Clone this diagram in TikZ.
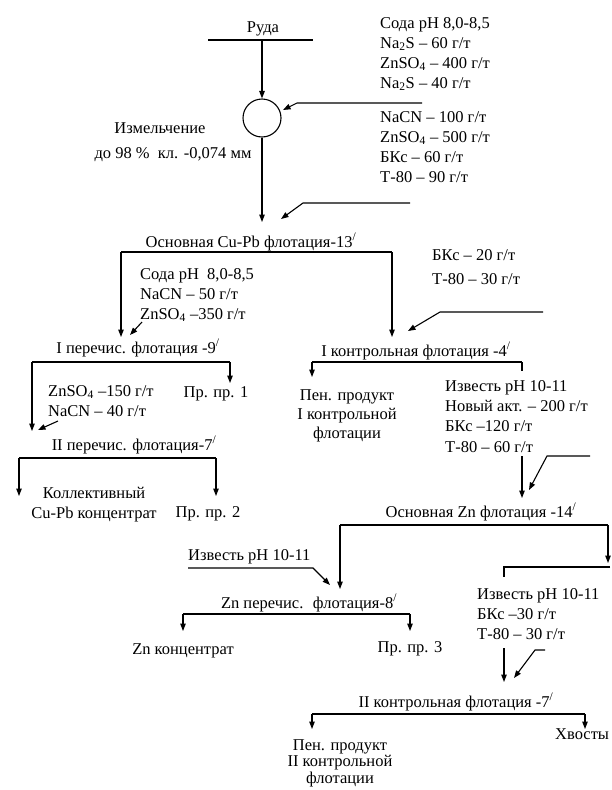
\documentclass[tikz,border=0pt]{standalone}
\usepackage{fontspec}
\setmainfont{Liberation Serif}
\usetikzlibrary{arrows.meta}
\newcommand\dfont{\fontsize{16.5}{20}\selectfont}
\newcommand\mn{\textsuperscript{/}}
\tikzset{
  txt/.style={inner sep=0pt, font=\dfont, anchor=base},
  blk/.style={inner sep=0pt, font=\dfont, align=left, anchor=north west},
  cblk/.style={inner sep=0pt, font=\dfont, align=center, anchor=north},
  ln/.style={line width=1.1pt},
  bar/.style={line width=1.9pt},
  arr/.style={line width=1.1pt, -{Triangle[length=7.5pt,width=5.5pt]}},
}
\begin{document}
\begin{tikzpicture}[x=1pt,y=-1pt]
\path[use as bounding box] (0,0) rectangle (612,790);

% ---- feed and grinding
\node[txt] (ruda) at (263,32) {Руда};
\coordinate (rudaL) at (208,40);
\coordinate (rudaR) at (313,40);
\coordinate (rudaC) at (262,40);
\draw[ln] (rudaL) -- (rudaR);
\node[draw, circle, line width=1.1pt, minimum size=38pt, inner sep=0pt] (mill) at (262,118) {};
\draw[arr] (rudaC) -- (mill.north);
\node[txt] (izm1) at (160,133) {Измельчение};
\node[txt] (izm2) at (173,158) {до 98 \% \ кл. -0,074 мм};

\node[blk] (rg1) at (380,17) {Сода рН 8,0-8,5\\Na\textsubscript{2}S -- 60 г/т\\ZnSO\textsubscript{4} -- 400 г/т\\Na\textsubscript{2}S -- 40 г/т};
\coordinate (r1a) at (422,103);
\coordinate (r1b) at (297,103);
\coordinate (r1t) at (283,110);
\draw[arr] (r1a) -- (r1b) -- (r1t);

\node[blk] (rg2) at (380,111) {NaCN -- 100 г/т\\ZnSO\textsubscript{4} -- 500 г/т\\БКс -- 60 г/т\\Т-80 -- 90 г/т};
\coordinate (r2a) at (410,203);
\coordinate (r2b) at (303,203);
\coordinate (r2t) at (281,219);
\draw[arr] (r2a) -- (r2b) -- (r2t);

% ---- main Cu-Pb flotation
\node[txt] (osn1) at (251,247) {Основная Cu-Pb флотация-13\mn};
\coordinate (m1in) at (262,222);
\draw[arr] (mill.south) -- (m1in);
\coordinate (b1L) at (121,252);
\coordinate (b1R) at (392,252);
\draw[bar] (b1L) -- (b1R);

\node[blk] (rg3) at (140,268) {Сода рН \ 8,0-8,5\\NaCN -- 50 г/т\\ZnSO\textsubscript{4} --350 г/т};
\coordinate (r3a) at (142,322);
\coordinate (r3t) at (130,335);
\draw[arr] (r3a) -- (r3t);

\node[blk] (rg4) at (432,249) {БКс -- 20 г/т\\[4pt]Т-80 -- 30 г/т};
\coordinate (r4a) at (543,312);
\coordinate (r4b) at (440,312);
\coordinate (r4t) at (408,331);
\draw[arr] (r4a) -- (r4b) -- (r4t);

\coordinate (c1L) at (121,337);
\coordinate (c1R) at (392,337);
\draw[arr] (b1L) -- (c1L);
\draw[arr] (b1R) -- (c1R);

% ---- I cleaner
\node[txt] (per1) at (138,353) {I перечис. флотация -9\mn};
\coordinate (b2L) at (32,362);
\coordinate (b2R) at (230,362);
\draw[bar] (b2L) -- (b2R);
\coordinate (p1t) at (230,383);
\draw[arr] (b2R) -- (p1t);
\node[txt] (pp1) at (216,397) {Пр. пр. 1};
\node[blk] (rg5) at (48,385) {ZnSO\textsubscript{4} --150 г/т\\NaCN -- 40 г/т};
\coordinate (r5a) at (58,421);
\coordinate (r5t) at (38,430);
\draw[arr] (r5a) -- (r5t);
\coordinate (p2in) at (32,431);
\draw[arr] (b2L) -- (p2in);

% ---- II cleaner
\node[txt] (per2) at (134,450) {II перечис. флотация-7\mn};
\coordinate (b3L) at (19,458);
\coordinate (b3R) at (216,458);
\draw[bar] (b3L) -- (b3R);
\coordinate (k1) at (19,496);
\coordinate (k2) at (216,496);
\draw[arr] (b3L) -- (k1);
\draw[arr] (b3R) -- (k2);
\node[cblk] (kol) at (94,487) {Коллективный\\Cu-Pb концентрат};
\node[txt] (pp2) at (208,517) {Пр. пр. 2};

% ---- I scavenger
\node[txt] (kon1) at (416,356) {I контрольная флотация -4\mn};
\coordinate (b4L) at (312,362);
\coordinate (b4R) at (522,362);
\draw[bar] (b4L) -- (b4R);
\coordinate (k4t) at (312,377);
\draw[arr] (b4L) -- (k4t);
\coordinate (b4s) at (522,371);
\draw[ln] (b4R) -- (b4s);
\node[cblk, font=\fontsize{16.5}{19}\selectfont] (pen1) at (347,389) {Пен. продукт\\I контрольной\\флотации};
\node[blk, font=\fontsize{16.5}{20.3}\selectfont] (rg6) at (445,380) {Известь рН 10-11\\Новый акт. -- 200 г/т\\БКс --120 г/т\\Т-80 -- 60 г/т};
\coordinate (z1a) at (522,456);
\coordinate (z1t) at (522,498);
\draw[arr] (z1a) -- (z1t);
\coordinate (r6a) at (590,456);
\coordinate (r6b) at (547,456);
\coordinate (r6t) at (529,490);
\draw[arr] (r6a) -- (r6b) -- (r6t);

% ---- main Zn flotation
\node[txt] (osn2) at (481,517) {Основная Zn флотация -14\mn};
\coordinate (b5L) at (340,525);
\coordinate (b5R) at (608,525);
\draw[bar] (b5L) -- (b5R);
\coordinate (zc1) at (340,589);
\coordinate (zt1) at (608,563);
\draw[arr] (b5L) -- (zc1);
\draw[arr] (b5R) -- (zt1);
\coordinate (f1) at (610,567);
\coordinate (f2) at (504,567);
\coordinate (f3) at (504,577);
\draw[ln] (f1) -- (f2) -- (f3);

\node[txt, anchor=base west] (izv) at (188,560) {Известь рН 10-11};
\coordinate (r7a) at (188,568);
\coordinate (r7b) at (313,568);
\coordinate (r7t) at (330,585);
\draw[arr] (r7a) -- (r7b) -- (r7t);

% ---- Zn cleaner
\node[txt] (znp) at (309,608) {Zn перечис. \ флотация-8\mn};
\coordinate (b6L) at (183,614);
\coordinate (b6R) at (410,614);
\draw[bar] (b6L) -- (b6R);
\coordinate (zk) at (183,631);
\coordinate (pp3t) at (410,631);
\draw[arr] (b6L) -- (zk);
\draw[arr] (b6R) -- (pp3t);
\node[txt] (znk) at (183,654) {Zn концентрат};
\node[txt] (pp3) at (410,652) {Пр. пр. 3};

\node[blk] (rg7) at (477,588) {Известь рН 10-11\\БКс --30 г/т\\Т-80 -- 30 г/т};
\coordinate (s2a) at (504,648);
\coordinate (s2t) at (504,682);
\draw[arr] (s2a) -- (s2t);
\coordinate (r8a) at (545,650);
\coordinate (r8b) at (535,650);
\coordinate (r8t) at (514,678);
\draw[arr] (r8a) -- (r8b) -- (r8t);

% ---- II scavenger
\node[txt] (kon2) at (456,707) {II контрольная флотация -7\mn};
\coordinate (b7L) at (312,714);
\coordinate (b7R) at (585,714);
\draw[bar] (b7L) -- (b7R);
\coordinate (pen2t) at (312,729);
\coordinate (hvt) at (585,729);
\draw[arr] (b7L) -- (pen2t);
\draw[arr] (b7R) -- (hvt);
\node[txt, anchor=base west] (hv) at (555,739) {Хвосты};
\node[cblk, font=\fontsize{16.5}{16.5}\selectfont] (pen2) at (340,739) {Пен. продукт\\II контрольной\\флотации};
\end{tikzpicture}
\end{document}
